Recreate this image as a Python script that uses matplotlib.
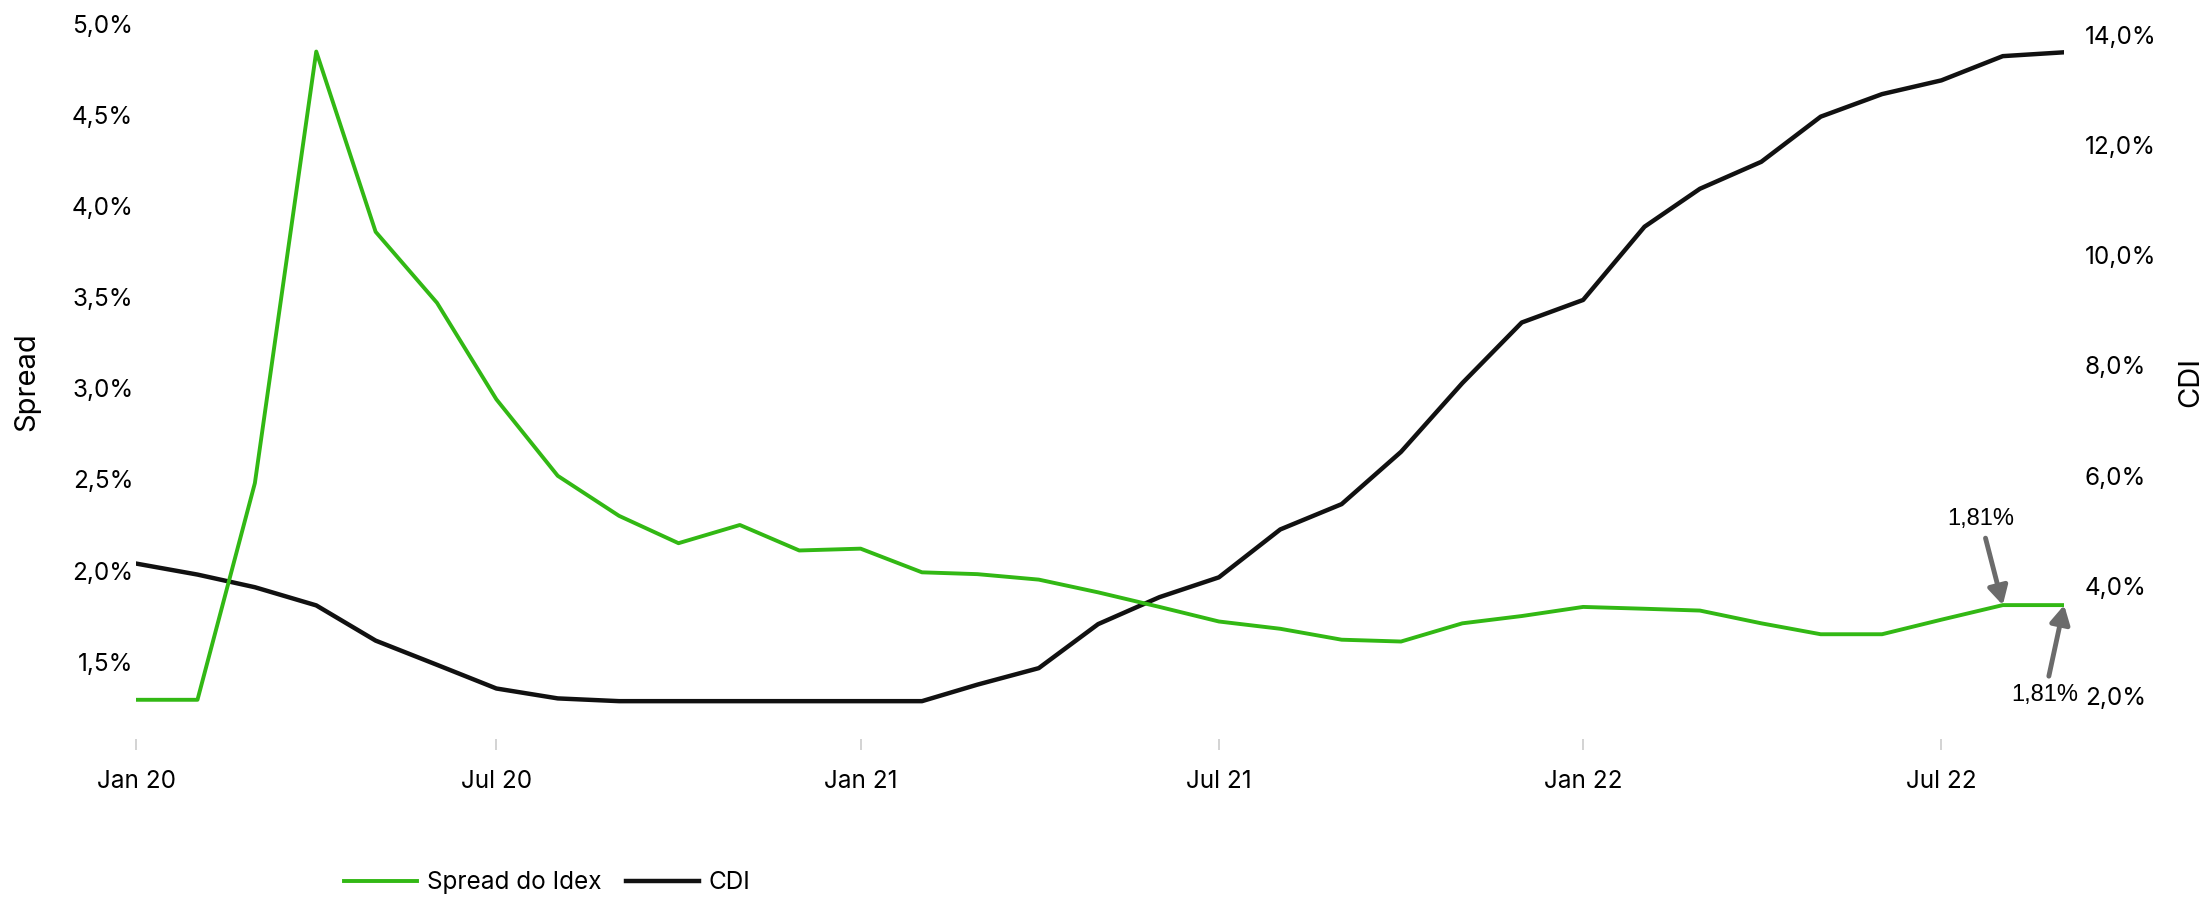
import matplotlib
matplotlib.use("Agg")
import matplotlib.pyplot as plt
import matplotlib.dates as mdates
import numpy as np
import pandas as pd

# monthly points, Jan 2020 .. Sep 2022
meses = pd.date_range("2020-01-01", "2022-09-01", freq="MS")

spread = [1.29, 1.29, 2.48, 4.85, 3.86, 3.47, 2.94, 2.52, 2.30, 2.15, 2.25, 2.11,
          2.12, 1.99, 1.98, 1.95, 1.88, 1.80, 1.72, 1.68, 1.62, 1.61, 1.71, 1.75,
          1.80, 1.79, 1.78, 1.71, 1.65, 1.65, 1.73, 1.81, 1.81]

cdi = [4.40, 4.20, 3.97, 3.64, 3.00, 2.56, 2.13, 1.95, 1.90, 1.90, 1.90, 1.90,
       1.90, 1.90, 2.20, 2.50, 3.30, 3.79, 4.15, 5.02, 5.48, 6.43, 7.68, 8.78,
       9.19, 10.52, 11.21, 11.70, 12.52, 12.93, 13.18, 13.62, 13.69]

spread_ticks = [1.5, 2.0, 2.5, 3.0, 3.5, 4.0, 4.5, 5.0]
cdi_ticks = [2, 4, 6, 8, 10, 12, 14]

VERDE = "#32b814"
PRETO = "#111111"
CINZA = "#6b6b6b"

plt.rcParams['font.family'] = ['Inter', 'DejaVu Sans']


def pct(v, dec=1):
    return ("{:.%df}%%" % dec).format(v).replace(".", ",")


fig = plt.figure(figsize=(22.06, 8.97), dpi=100)
ax = fig.add_axes([0.0617, 0.176, 0.874, 0.797])
ax2 = ax.twinx()

l1, = ax.plot(meses, spread, color=VERDE, lw=2.8, label="Spread do Idex", zorder=3)
l2, = ax2.plot(meses, cdi, color=PRETO, lw=3.2, label="CDI", zorder=2)
ax.set_zorder(ax2.get_zorder() + 1)
ax.patch.set_visible(False)

ax.set_xlim(meses[0], meses[-1])
ax.set_ylim(1.074, 5.0)
ax2.set_ylim(1.21, 14.2)

ax.set_yticks(spread_ticks)
ax.set_yticklabels([pct(v) for v in spread_ticks])
ax2.set_yticks(cdi_ticks)
ax2.set_yticklabels([pct(v) for v in cdi_ticks])

ax.xaxis.set_major_locator(mdates.MonthLocator(bymonth=[1, 7]))
ax.xaxis.set_major_formatter(mdates.DateFormatter("%b %y"))

for a in (ax, ax2):
    for s in a.spines.values():
        s.set_visible(False)

ax.tick_params(axis="x", length=8, width=1.2, color="#cccccc", pad=14, labelsize=17.5)
ax.tick_params(axis="y", length=0, pad=2, labelsize=17.5)
ax2.tick_params(axis="y", length=0, pad=15, labelsize=17.5)

ax.set_ylabel("Spread", fontsize=21)
ax.yaxis.set_label_coords(-0.0495, 0.5)
ax2.set_ylabel("CDI", fontsize=21)
ax2.yaxis.set_label_coords(1.0587, 0.5)

arrow = dict(arrowstyle="-|>,head_length=0.55,head_width=0.3", mutation_scale=20,
             lw=3.5, color=CINZA, shrinkA=4, shrinkB=0)
ax.annotate(pct(spread[-2], 2), xy=(meses[-2], spread[-2]), xytext=(-16, 62),
            textcoords="offset points", ha="center", va="center",
            fontsize=17, family=["Liberation Sans"], arrowprops=arrow, zorder=5)
ax.annotate(pct(spread[-1], 2), xy=(meses[-1], spread[-1]), xytext=(-14, -65),
            textcoords="offset points", ha="center", va="center",
            fontsize=17, family=["Liberation Sans"], arrowprops=arrow, zorder=5)

fig.legend(handles=[l1, l2], loc="center", bbox_to_anchor=(0.248, 0.016), ncol=2,
           frameon=False, fontsize=17.5, handlelength=3.0, columnspacing=1.0,
           handletextpad=0.4)

fig.savefig("out.png", dpi=100)
